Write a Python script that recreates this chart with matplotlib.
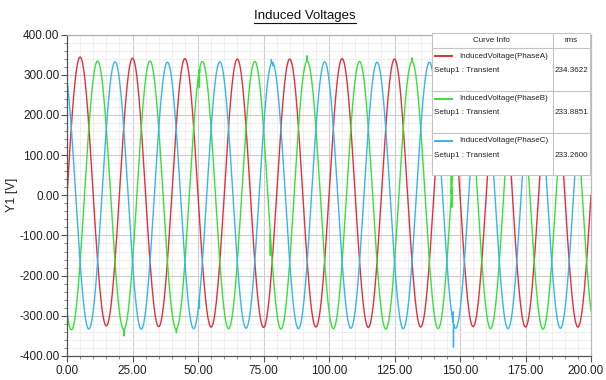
import numpy as np
import matplotlib
matplotlib.use('Agg')
import matplotlib.pyplot as plt
from matplotlib.ticker import MultipleLocator, FormatStrFormatter, FuncFormatter
from matplotlib.patches import Rectangle
from matplotlib.lines import Line2D

W, H = 606, 380

PERIOD_MS = 20.0
T_END = 200.0

curve_names = ['InducedVoltage(PhaseA)', 'InducedVoltage(PhaseB)', 'InducedVoltage(PhaseC)']
setup_label = 'Setup1 : Transient'
rms_values = ['234.3622', '233.8851', '233.2600']
phase_deg = [0, -120, 120]
colors = ['#e2303c', '#38e038', '#38b4f0']

# successive half-cycle extremes (peak / trough), in time order
red_ext = [344, -325, 341, -327, 340, -328, 339, -329, 339, -328, 340,
           -329, 339, -328, 340, -327, 340, -328, 339, -328, 339]
green_ext = [-335, 334, -334, 334, -333, 333, -332, 333, -333, 334, -332,
             333, -333, 333, -332, 334, -332, 333, -333, 333, -332]
blue_ext = [332, -333, 332, -333, 331, -332, 332, -331, 331, -332, 332,
            -331, 331, -332, 331, -331, 332, -332, 331, -331, 332]

# numerical glitches (time ms, voltage V)
red_glitch_t = []
red_glitch_v = []
green_glitch_t = [21.7, 41.75, 50.5, 50.6, 77.6, 91.6, 131.6, 146.7, 146.85]
green_glitch_v = [-350, -342, 268, 305, -150, 347, 342, 55, -30]
blue_glitch_t = [50.55, 78.0, 78.6, 147.4, 147.5, 147.6]
blue_glitch_v = [-282, 338, 322, -290, -378, -322]


def build_wave(ext, phase, gt, gv):
    t = np.arange(0, T_END + 0.001, 0.05)
    theta = 2 * np.pi * t / PERIOD_MS + np.radians(phase)
    h = np.floor(theta / np.pi + 1e-9).astype(int)
    idx = np.clip(h - h[0], 0, len(ext) - 1)
    v = np.abs(np.array(ext, dtype=float))[idx] * np.sin(theta)
    if gt:
        t = np.concatenate([t, gt])
        v = np.concatenate([v, gv])
        order = np.argsort(t, kind='stable')
        t, v = t[order], v[order]
    return t, v


def px(x, y):
    return x / W, 1 - y / H


plt.rcParams['font.family'] = ['Liberation Sans', 'DejaVu Sans']

fig = plt.figure(figsize=(W / 100, H / 100), dpi=100)
ax = fig.add_axes([67 / W, 1 - 356 / H, (591 - 67) / W, (356 - 34.5) / H])

series = [(red_ext, red_glitch_t, red_glitch_v),
          (green_ext, green_glitch_t, green_glitch_v),
          (blue_ext, blue_glitch_t, blue_glitch_v)]
for (ext, gt, gv), ph, c in zip(series, phase_deg, colors):
    t, v = build_wave(ext, ph, gt, gv)
    ax.plot(t, v, color=c, lw=1.0)

ax.set_xlim(0, T_END)
ax.set_ylim(-400, 400)
ax.xaxis.set_major_locator(MultipleLocator(25))
ax.xaxis.set_minor_locator(MultipleLocator(5))
ax.yaxis.set_major_locator(MultipleLocator(100))
ax.yaxis.set_minor_locator(MultipleLocator(20))
# last x label is drawn separately, nudged left so it stays inside the figure
ax.xaxis.set_major_formatter(FuncFormatter(lambda v, p: '' if v >= T_END else '%.2f' % v))
ax.yaxis.set_major_formatter(FormatStrFormatter('%.2f'))
ax.set_axisbelow(True)
ax.grid(which='major', color='#cdcdcd', lw=0.8)
ax.grid(which='minor', color='#ececec', lw=0.6)
ax.tick_params(which='major', direction='out', length=4, width=0.8, color='#555555',
               labelsize=8.5, labelcolor='#222222', pad=1.5)
ax.tick_params(which='minor', direction='out', length=2, width=0.6, color='#777777')
ax.tick_params(axis='x', pad=2.5)
for side, col in [('left', '#555555'), ('bottom', '#555555'), ('top', '#b0b0b0'), ('right', '#bbbbbb')]:
    ax.spines[side].set_color(col)
    ax.spines[side].set_linewidth(0.9)
ax.annotate('%.2f' % T_END, xy=(T_END, 0), xycoords=('data', 'axes fraction'),
            xytext=(-4, -6.5), textcoords='offset points', ha='center', va='top',
            fontsize=8.5, color='#222222', annotation_clip=False)

fig.text(*px(12, 195), 'Y1 [V]', rotation=90, ha='center', va='center', fontsize=9, color='#222222')
title = fig.text(*px(305, 16), 'Induced Voltages', ha='center', va='center', fontsize=9.5, color='#111111')

# legend table
border = '#c4c4c4'
tab_l, tab_r, col_div = 431.5, 589.5, 552.5
rows_y = [32.7, 48, 90.5, 133, 174.5]
x0, y0 = px(tab_l, rows_y[-1])
x1, y1 = px(tab_r, rows_y[0])
fig.add_artist(Rectangle((x0, y0), x1 - x0, y1 - y0, transform=fig.transFigure,
                         facecolor='white', edgecolor=border, lw=0.8, zorder=5))
for yy in rows_y[1:-1]:
    a, b = px(tab_l, yy), px(tab_r, yy)
    fig.add_artist(Line2D([a[0], b[0]], [a[1], b[1]], transform=fig.transFigure, color=border, lw=0.8, zorder=6))
a, b = px(col_div, rows_y[0]), px(col_div, rows_y[-1])
fig.add_artist(Line2D([a[0], b[0]], [a[1], b[1]], transform=fig.transFigure, color=border, lw=0.8, zorder=6))

fs = 5.8
fig.text(*px(491.5, 41), 'Curve Info', ha='center', va='center', fontsize=fs, color='#222222', zorder=7)
fig.text(*px(571, 41), 'rms', ha='center', va='center', fontsize=fs, color='#222222', zorder=7)
for i, (name, rms, c) in enumerate(zip(curve_names, rms_values, colors)):
    ytop = rows_y[i + 1]
    ly = ytop + 8
    a, b = px(435, ly), px(452, ly)
    fig.add_artist(Line2D([a[0], b[0]], [a[1], b[1]], transform=fig.transFigure, color=c, lw=1.4, zorder=7))
    fig.text(*px(459, ly), name, ha='left', va='center', fontsize=fs, color='#222222', zorder=7)
    fig.text(*px(434, ly + 14.5), setup_label, ha='left', va='center', fontsize=fs, color='#222222', zorder=7)
    fig.text(*px(571, ly + 14.5), rms, ha='center', va='center', fontsize=fs, color='#222222', zorder=7)

# underline the title
fig.canvas.draw()
bb = title.get_window_extent().transformed(fig.transFigure.inverted())
fig.add_artist(Line2D([bb.x0, bb.x1], [bb.y0 - 1.0 / H, bb.y0 - 1.0 / H], transform=fig.transFigure,
                      color='#111111', lw=0.8))

fig.savefig('out.png', dpi=100)
